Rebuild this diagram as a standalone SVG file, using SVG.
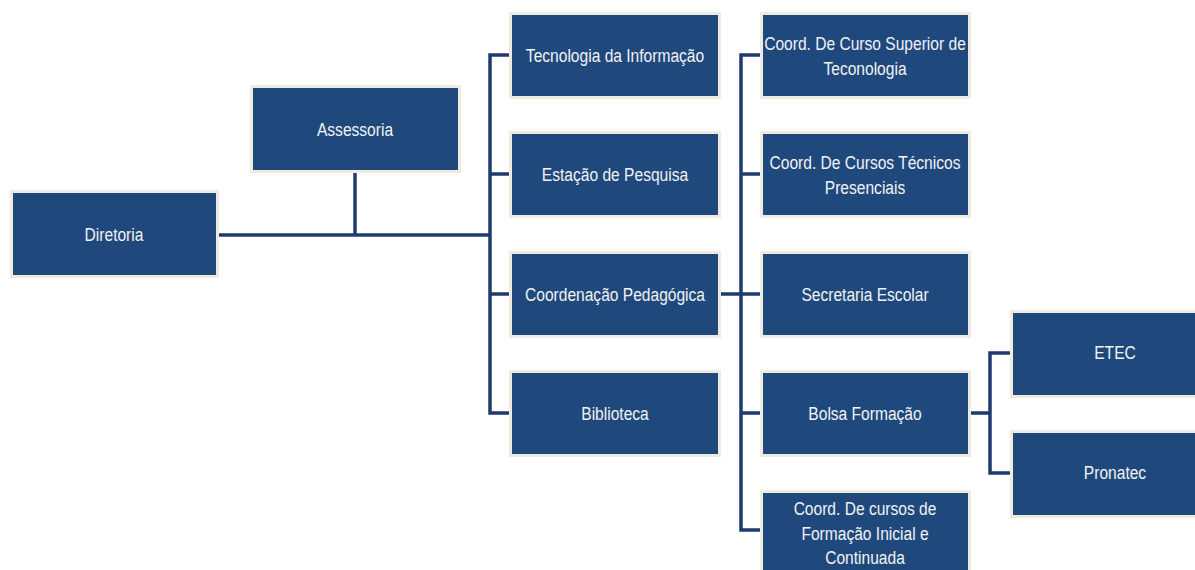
<svg xmlns="http://www.w3.org/2000/svg" width="1195" height="570" viewBox="0 0 1195 570">
<style>
.box{fill:#1F497D;stroke:#EEECE1;stroke-width:3}
.t{fill:#F2F2F2;font-family:"Liberation Sans",Arial,sans-serif;font-size:19px;text-anchor:middle}
.ln{stroke:#1F3B6E;stroke-width:3.5;fill:none}
</style>
<rect width="1195" height="570" fill="#FFFFFF"/>
<g id="connectors">
<path class="ln" d="M219 235H490" stroke-width="4"/>
<path class="ln" d="M355 173V235"/>
<path class="ln" d="M509 55H490V413H509M490 174H509M490 294H509"/>
<path class="ln" d="M721 294H760M760 55H741V530H760M741 174H760M741 413H760"/>
<path class="ln" d="M971 413H990M1010 353H990V473H1010"/>
</g>
<g id="diretoria"><rect class="box" x="11.5" y="191.5" width="206" height="85"/><text class="t" transform="translate(114 241) scale(0.82 1)">Diretoria</text></g>
<g id="assessoria"><rect class="box" x="251.5" y="86.5" width="208" height="85"/><text class="t" transform="translate(355 136) scale(0.82 1)">Assessoria</text></g>
<g id="tecnologia"><rect class="box" x="510.5" y="13.5" width="209" height="84"/><text class="t" transform="translate(615 62) scale(0.82 1)">Tecnologia da Informação</text></g>
<g id="estacao"><rect class="box" x="510.5" y="132.5" width="209" height="84"/><text class="t" transform="translate(615 181) scale(0.82 1)">Estação de Pesquisa</text></g>
<g id="coordenacao"><rect class="box" x="510.5" y="252.5" width="209" height="84"/><text class="t" transform="translate(615 301) scale(0.82 1)">Coordenação Pedagógica</text></g>
<g id="biblioteca"><rect class="box" x="510.5" y="371.5" width="209" height="84"/><text class="t" transform="translate(615 420) scale(0.82 1)">Biblioteca</text></g>
<g id="curso-superior"><rect class="box" x="761.5" y="13.5" width="208" height="84"/><text class="t" transform="translate(865 50) scale(0.82 1)">Coord. De Curso Superior de</text><text class="t" transform="translate(865 75) scale(0.82 1)">Teconologia</text></g>
<g id="cursos-tecnicos"><rect class="box" x="761.5" y="132.5" width="208" height="84"/><text class="t" transform="translate(865 169) scale(0.82 1)">Coord. De Cursos Técnicos</text><text class="t" transform="translate(865 194) scale(0.82 1)">Presenciais</text></g>
<g id="secretaria"><rect class="box" x="761.5" y="252.5" width="208" height="84"/><text class="t" transform="translate(865 301) scale(0.82 1)">Secretaria Escolar</text></g>
<g id="bolsa"><rect class="box" x="761.5" y="371.5" width="208" height="84"/><text class="t" transform="translate(865 420) scale(0.82 1)">Bolsa Formação</text></g>
<g id="fic"><rect class="box" x="761.5" y="491.5" width="208" height="90"/><text class="t" transform="translate(865 515) scale(0.82 1)">Coord. De cursos de</text><text class="t" transform="translate(865 540) scale(0.82 1)">Formação Inicial e</text><text class="t" transform="translate(865 564) scale(0.82 1)">Continuada</text></g>
<g id="etec"><rect class="box" x="1011.5" y="311.5" width="200" height="85"/><text class="t" transform="translate(1115 359) scale(0.82 1)">ETEC</text></g>
<g id="pronatec"><rect class="box" x="1011.5" y="431.5" width="200" height="85"/><text class="t" transform="translate(1115 479) scale(0.82 1)">Pronatec</text></g>
</svg>
